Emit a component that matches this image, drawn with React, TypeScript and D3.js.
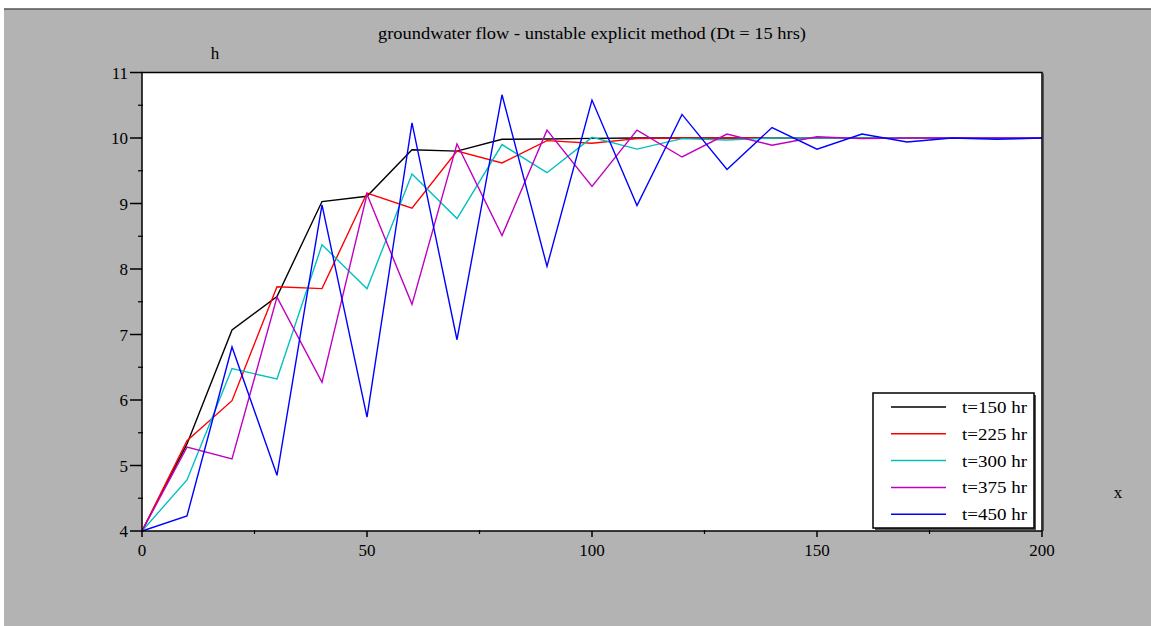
import React from "react";
import * as d3 from "d3";

const xs = [0, 10, 20, 30, 40, 50, 60, 70, 80, 90, 100, 110, 120, 130, 140, 150, 160, 170, 180, 190, 200];
const h150 = [4, 5.33, 7.07, 7.58, 9.03, 9.11, 9.82, 9.8, 9.98, 9.985, 9.995, 10, 10, 10, 10, 10, 10, 10, 10, 10, 10];
const h225 = [4, 5.38, 5.99, 7.73, 7.7, 9.16, 8.93, 9.8, 9.62, 9.96, 9.92, 9.99, 10.0, 10.0, 10, 10, 10, 10, 10, 10, 10];
const h300 = [4, 4.78, 6.48, 6.32, 8.37, 7.7, 9.45, 8.77, 9.9, 9.47, 10.01, 9.83, 9.99, 9.97, 10, 10, 10, 10, 10, 10, 10];
const h375 = [4, 5.28, 5.1, 7.57, 6.27, 9.14, 7.46, 9.91, 8.51, 10.12, 9.26, 10.12, 9.71, 10.06, 9.89, 10.02, 9.99, 10.0, 10, 10, 10];
const h450 = [4, 4.23, 6.81, 4.85, 8.98, 5.74, 10.23, 6.92, 10.66, 8.04, 10.58, 8.97, 10.36, 9.52, 10.16, 9.83, 10.06, 9.94, 10.0, 9.98, 10];

const seriesNames = ["t=150 hr", "t=225 hr", "t=300 hr", "t=375 hr", "t=450 hr"];
const seriesValues = [h150, h225, h300, h375, h450];
const seriesColors = ["#000000", "#ff0000", "#00c0c0", "#c000c0", "#0000ff"];

const xMajor = [0, 50, 100, 150, 200];
const xMinor = [25, 75, 125, 175];
const yMajor = [4, 5, 6, 7, 8, 9, 10, 11];
const yMinor = [4.5, 5.5, 6.5, 7.5, 8.5, 9.5, 10.5];

const title = "groundwater flow - unstable explicit method (Dt = 15 hrs)";

export default function App() {
  const W = 1151, H = 626;
  const x = d3.scaleLinear().domain([0, 200]).range([142, 1042]);
  const y = d3.scaleLinear().domain([4, 11]).range([531, 72.5]);
  const line = d3.line<number>().x((_, i) => x(xs[i])).y((d) => y(d));
  const font = "'Liberation Serif', 'Times New Roman', serif";

  const lg = { x: 873, y: 393, w: 161, h: 135 };

  return (
    <div style={{ position: "absolute", left: 0, top: 0 }}>
      <svg width={W} height={H} style={{ display: "block" }} fontFamily={font}>
        <rect x={0} y={0} width={W} height={H} fill="#ffffff" />
        <rect x={4} y={9} width={W - 4} height={H - 9} fill="#b3b3b3" />
        <line x1={4} x2={W} y1={9} y2={9} stroke="#555" strokeWidth={1.5} />
        <text x={378} y={39} fontSize={17} textLength={428} lengthAdjust="spacingAndGlyphs" fill="#000">{title}</text>
        <text x={215} y={59} textAnchor="middle" fontSize={17} fill="#000">h</text>
        <text x={1118} y={498} textAnchor="middle" fontSize={17} fill="#000">x</text>

        <rect x={x(0)} y={y(11)} width={x(200) - x(0)} height={y(4) - y(11)} fill="#ffffff" />

        <g clipPath="url(#clip)">
          {seriesValues.map((vals, i) => (
            <path key={i} d={line(vals) || ""} fill="none" stroke={seriesColors[i]} strokeWidth={1.4} strokeLinejoin="miter" />
          ))}
        </g>
        <defs>
          <clipPath id="clip">
            <rect x={x(0)} y={y(11) - 2} width={x(200) - x(0)} height={y(4) - y(11) + 4} />
          </clipPath>
        </defs>

        <rect x={x(0)} y={y(11)} width={x(200) - x(0)} height={y(4) - y(11)} fill="none" stroke="#000" strokeWidth={1.5} />
        <line x1={x(200) + 1.5} x2={x(200) + 1.5} y1={y(11) + 1} y2={y(4)} stroke="#555" strokeWidth={1} />

        {xMajor.map((v) => (
          <g key={"xm" + v}>
            <line x1={x(v)} x2={x(v)} y1={y(4)} y2={y(4) + 6} stroke="#000" strokeWidth={1.5} />
            <text x={x(v)} y={y(4) + 25} textAnchor="middle" fontSize={17} fill="#000">{v}</text>
          </g>
        ))}
        {xMinor.map((v) => (
          <line key={"xn" + v} x1={x(v)} x2={x(v)} y1={y(4) - 1} y2={y(4) + 3} stroke="#000" strokeWidth={1.2} />
        ))}
        {yMajor.map((v) => (
          <g key={"ym" + v}>
            <line x1={x(0) - 12} x2={x(0)} y1={y(v)} y2={y(v)} stroke="#000" strokeWidth={1.5} />
            <text x={x(0) - 14} y={y(v) + 6} textAnchor="end" fontSize={17} fill="#000">{v}</text>
          </g>
        ))}
        {yMinor.map((v) => (
          <line key={"yn" + v} x1={x(0) - 4} x2={x(0) + 1} y1={y(v)} y2={y(v)} stroke="#000" strokeWidth={1.2} />
        ))}

        <rect x={lg.x + 2} y={lg.y + 2} width={lg.w} height={lg.h} fill="#555" />
        <rect x={lg.x} y={lg.y} width={lg.w} height={lg.h} fill="#ffffff" stroke="#000" strokeWidth={1.5} />
        {seriesNames.map((name, i) => {
          const ry = lg.y + 14 + i * 26.8;
          return (
            <g key={name}>
              <line x1={891} x2={946} y1={ry} y2={ry} stroke={seriesColors[i]} strokeWidth={1.5} />
              <text x={962} y={ry + 6} fontSize={17} textLength={65} lengthAdjust="spacingAndGlyphs" fill="#000">{name}</text>
            </g>
          );
        })}
      </svg>
    </div>
  );
}
